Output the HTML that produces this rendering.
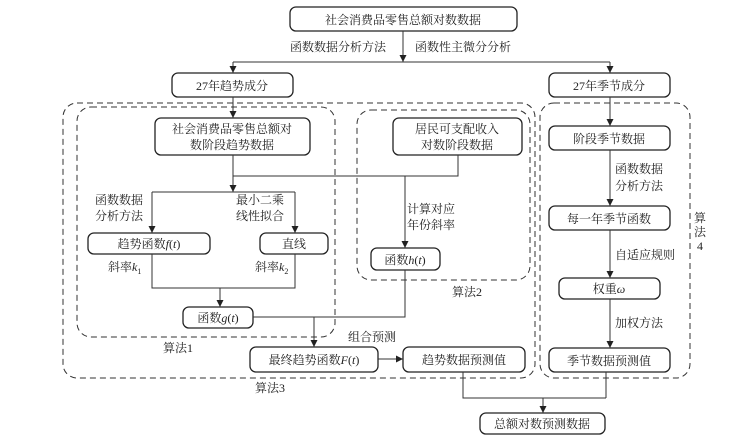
<!DOCTYPE html>
<html><head><meta charset="utf-8"><style>
body{margin:0;background:#fff}
svg text{font-family:"Liberation Serif","Noto Serif CJK SC","Noto Sans CJK SC",serif;font-size:12px;fill:#222}
</style></head><body>
<svg width="751" height="441" viewBox="0 0 751 441" xmlns="http://www.w3.org/2000/svg">
<defs><marker id="a" markerWidth="8" markerHeight="8" refX="7" refY="4" orient="auto" markerUnits="userSpaceOnUse"><path d="M0,0.5 L7,4 L0,7.5z" fill="#222"/></marker></defs>
<g fill="none" stroke="#333" stroke-width="1" stroke-dasharray="6,4">
<rect x="63" y="103" width="472" height="275" rx="14"/>
<rect x="77" y="107" width="258" height="230" rx="14"/>
<rect x="357" y="110" width="173" height="170" rx="14"/>
<rect x="540" y="103" width="150" height="275" rx="14"/>
</g>
<g fill="#fff" stroke="#222" stroke-width="1.3">
<rect x="290" y="7" width="227" height="24" rx="6"/>
<rect x="172" y="73" width="121" height="24" rx="6"/>
<rect x="549" y="73" width="121" height="24" rx="6"/>
<rect x="155" y="118" width="155" height="37" rx="6"/>
<rect x="393" y="118" width="129" height="37" rx="6"/>
<rect x="88" y="233" width="122" height="21" rx="6"/>
<rect x="260" y="233" width="68" height="21" rx="6"/>
<rect x="371" y="248" width="69" height="22" rx="6"/>
<rect x="183" y="307" width="70" height="21" rx="6"/>
<rect x="250" y="347" width="128" height="25" rx="6"/>
<rect x="403" y="347" width="122" height="25" rx="6"/>
<rect x="480" y="413" width="125" height="21" rx="6"/>
<rect x="549" y="126" width="121" height="24" rx="6"/>
<rect x="549" y="206" width="121" height="24" rx="6"/>
<rect x="559" y="278" width="101" height="21" rx="6"/>
<rect x="549" y="348" width="121" height="24" rx="6"/>
</g>
<g fill="none" stroke="#333" stroke-width="1">
<path d="M403 31V62" marker-end="url(#a)"/>
<path d="M233 62H610"/>
<path d="M233 62V73" marker-end="url(#a)"/>
<path d="M610 62V73" marker-end="url(#a)"/>
<path d="M233 97V118" marker-end="url(#a)"/>
<path d="M233 155V176H458V155"/>
<path d="M233 176V192" marker-end="url(#a)"/>
<path d="M152 192H295"/>
<path d="M152 192V233" marker-end="url(#a)"/>
<path d="M295 192V233" marker-end="url(#a)"/>
<path d="M405 176V248" marker-end="url(#a)"/>
<path d="M152 254V288H295V254"/>
<path d="M220 288V307" marker-end="url(#a)"/>
<path d="M253 317H405V270"/>
<path d="M314 317V347" marker-end="url(#a)"/>
<path d="M378 359H403" marker-end="url(#a)"/>
<path d="M463 372V398H606"/>
<path d="M543 398V413" marker-end="url(#a)"/>
<path d="M610 97V126" marker-end="url(#a)"/>
<path d="M610 150V206" marker-end="url(#a)"/>
<path d="M610 230V278" marker-end="url(#a)"/>
<path d="M610 299V348" marker-end="url(#a)"/>
<path d="M606 372V398"/>
</g>
<g text-anchor="middle">
<text x="403" y="24">社会消费品零售总额对数数据</text>
<text x="232" y="90">27年趋势成分</text>
<text x="609" y="90">27年季节成分</text>
<text x="232" y="133">社会消费品零售总额对</text>
<text x="232" y="149">数阶段趋势数据</text>
<text x="457" y="133">居民可支配收入</text>
<text x="457" y="149">对数阶段数据</text>
<text x="149" y="248">趋势函数<tspan font-style="italic">f</tspan>(<tspan font-style="italic">t</tspan>)</text>
<text x="294" y="248">直线</text>
<text x="405" y="264">函数<tspan font-style="italic">h</tspan>(<tspan font-style="italic">t</tspan>)</text>
<text x="218" y="322">函数<tspan font-style="italic">g</tspan>(<tspan font-style="italic">t</tspan>)</text>
<text x="314" y="364">最终趋势函数<tspan font-style="italic">F</tspan>(<tspan font-style="italic">t</tspan>)</text>
<text x="464" y="364">趋势数据预测值</text>
<text x="542" y="428">总额对数预测数据</text>
<text x="609" y="143">阶段季节数据</text>
<text x="609" y="223">每一年季节函数</text>
<text x="609" y="293">权重<tspan font-style="italic">ω</tspan></text>
<text x="609" y="365">季节数据预测值</text>
<text x="700" y="222">算</text>
<text x="700" y="236">法</text>
<text x="700" y="250">4</text>
</g>
<text x="290" y="51">函数数据分析方法</text>
<text x="415" y="51">函数性主微分分析</text>
<text x="95" y="204">函数数据</text>
<text x="95" y="220">分析方法</text>
<text x="236" y="204">最小二乘</text>
<text x="236" y="220">线性拟合</text>
<text x="407" y="213">计算对应</text>
<text x="407" y="229">年份斜率</text>
<text x="108" y="271">斜率<tspan font-style="italic">k</tspan><tspan font-size="8" dy="3">1</tspan></text>
<text x="255" y="271">斜率<tspan font-style="italic">k</tspan><tspan font-size="8" dy="3">2</tspan></text>
<text x="348" y="341">组合预测</text>
<text x="163" y="352">算法1</text>
<text x="452" y="296">算法2</text>
<text x="255" y="392">算法3</text>
<text x="615" y="173">函数数据</text>
<text x="615" y="190">分析方法</text>
<text x="615" y="259">自适应规则</text>
<text x="615" y="327">加权方法</text>
</svg>
</body></html>
